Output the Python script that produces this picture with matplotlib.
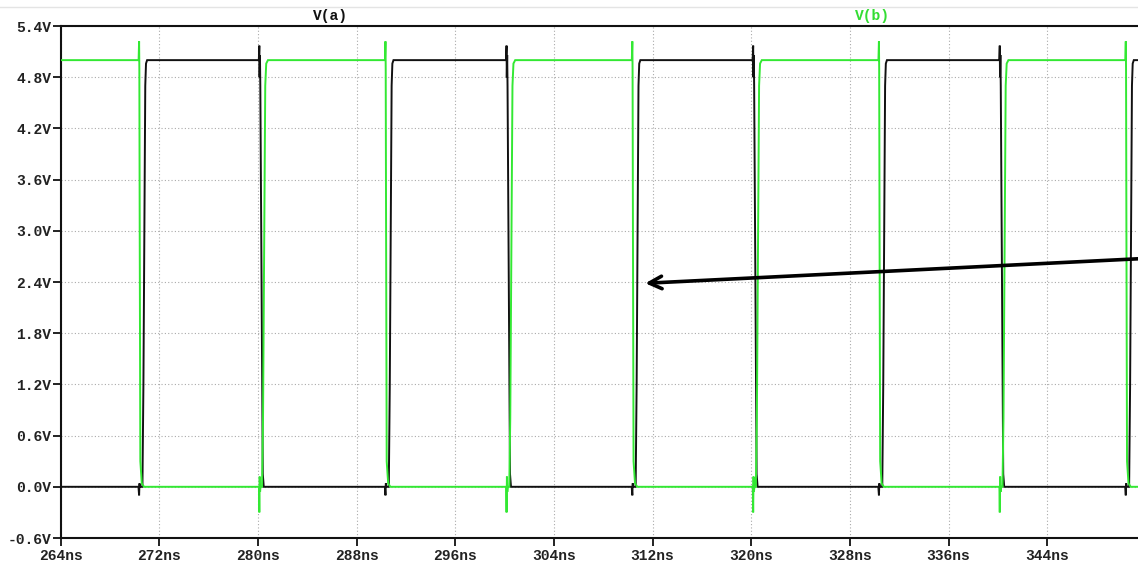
import numpy as np
import matplotlib
matplotlib.use("Agg")
import matplotlib.pyplot as plt

# ---- data ----
# edge times in ns
b_fall_times = [270.35, 290.33, 310.35, 330.35, 350.37]   # V(b) falls, V(a) rises shortly after
a_fall_times = [280.10, 300.15, 320.15, 340.15]           # V(a) falls, V(b) rises shortly after
v_high = 5.0
v_low = 0.0
b_overshoot = 5.22    # V(b) spike at its falling edge
b_undershoot = -0.30  # V(b) spike at V(a) falling edge
a_overshoot = 5.17    # V(a) spike at its falling edge
a_undershoot = -0.10  # V(a) glitch at V(b) falling edge

x_ticks = [264, 272, 280, 288, 296, 304, 312, 320, 328, 336, 344]
y_ticks = [-0.6, 0.0, 0.6, 1.2, 1.8, 2.4, 3.0, 3.6, 4.2, 4.8, 5.4]
t_start, t_end = 264.0, 351.36
series_names = ["V(a)", "V(b)"]
colors = ["#111111", "#33e833"]

# ---- build piecewise waveforms from edge data ----
def wave_a():
    t = [t_start]; v = [v_low]
    for k, tg in enumerate(b_fall_times):
        # glitch at V(b) falling edge, then rise
        t += [tg - 0.05, tg, tg + 0.03, tg + 0.08, tg + 0.27, tg + 0.35, tg + 0.50, tg + 0.56, tg + 0.65]
        v += [v_low, a_undershoot, 0.04, v_low, v_low, 1.2, 4.7, 4.96, v_high]
        if k < len(a_fall_times):
            tf = a_fall_times[k]
            t += [tf - 0.04, tf, tf + 0.02, tf + 0.05, tf + 0.08, tf + 0.28, tf + 0.36]
            v += [v_high, a_overshoot, 4.8, 5.06, 4.7, 0.15, v_low]
    t.append(t_end + 1); v.append(v[-1])
    return np.array(t), np.array(v)

def wave_b():
    t = [t_start]; v = [v_high]
    for k, tg in enumerate(b_fall_times):
        t += [tg - 0.04, tg, tg + 0.02, tg + 0.05, tg + 0.10, tg + 0.22, tg + 0.40]
        v += [v_high, b_overshoot, 4.9, 3.0, 0.3, 0.04, v_low]
        if k < len(a_fall_times):
            tf = a_fall_times[k]
            t += [tf - 0.03, tf, tf + 0.03, tf + 0.06, tf + 0.10, tf + 0.22, tf + 0.30, tf + 0.48, tf + 0.56, tf + 0.70]
            v += [v_low, b_undershoot, 0.12, -0.06, v_low, v_low, 0.8, 4.7, 4.96, v_high]
    t.append(t_end + 1); v.append(v[-1])
    return np.array(t), np.array(v)

W, H = 1138, 564
fig = plt.figure(figsize=(W / 100, H / 100), dpi=100)
fig.patch.set_facecolor("white")
ax = fig.add_axes([60.8 / W, 1 - 538 / H, 1 - 60.8 / W, (538 - 26) / H])

ta, va = wave_a()
tb, vb = wave_b()
ax.plot(ta, va, color=colors[0], lw=1.4, solid_joinstyle="miter", zorder=3)
ax.plot(tb, vb, color=colors[1], lw=1.4, solid_joinstyle="miter", zorder=4)

ax.set_xlim(t_start, t_end)
ax.set_ylim(-0.6, 5.4)
ax.set_xticks(x_ticks)
ax.set_xticklabels([f"{x}ns" for x in x_ticks])
ax.set_yticks(y_ticks)
ax.set_yticklabels([f"{y:.1f}V" for y in y_ticks])

mono = dict(family="Liberation Mono", weight="bold", size=10.5)
for lab in ax.get_xticklabels() + ax.get_yticklabels():
    lab.set_fontfamily("Liberation Mono")
    lab.set_fontweight("bold")
    lab.set_fontsize(10.5)
    lab.set_color("#222222")

ax.tick_params(axis="both", direction="out", length=6, width=1.3, color="#111111")
ax.tick_params(axis="x", pad=2)
ax.tick_params(axis="y", pad=1)
ax.grid(True, color="#aaaaaa", linestyle=(0, (1, 2)), linewidth=0.8)
ax.set_axisbelow(True)
for side in ["left", "top", "bottom"]:
    ax.spines[side].set_linewidth(1.5)
    ax.spines[side].set_color("#111111")
ax.spines["right"].set_visible(False)

fig.text((330) / W, 1 - 16 / H, series_names[0], color=colors[0], ha="center", va="center", **mono)
fig.text((872) / W, 1 - 16 / H, series_names[1], color="#33dd33", ha="center", va="center", **mono)

# annotation arrow
ax.annotate("", xy=(311.4, 2.385), xytext=(t_end, 2.672),
            arrowprops=dict(arrowstyle="->,head_length=0.9,head_width=0.45", lw=2.6, color="black",
                            shrinkA=0, shrinkB=0),
            annotation_clip=False, zorder=6)

# window frame hints
fig.add_artist(plt.Line2D([0, 1], [1 - 7 / H, 1 - 7 / H], color="#e4e4e4", lw=1))

fig.savefig("out.png", dpi=100)
